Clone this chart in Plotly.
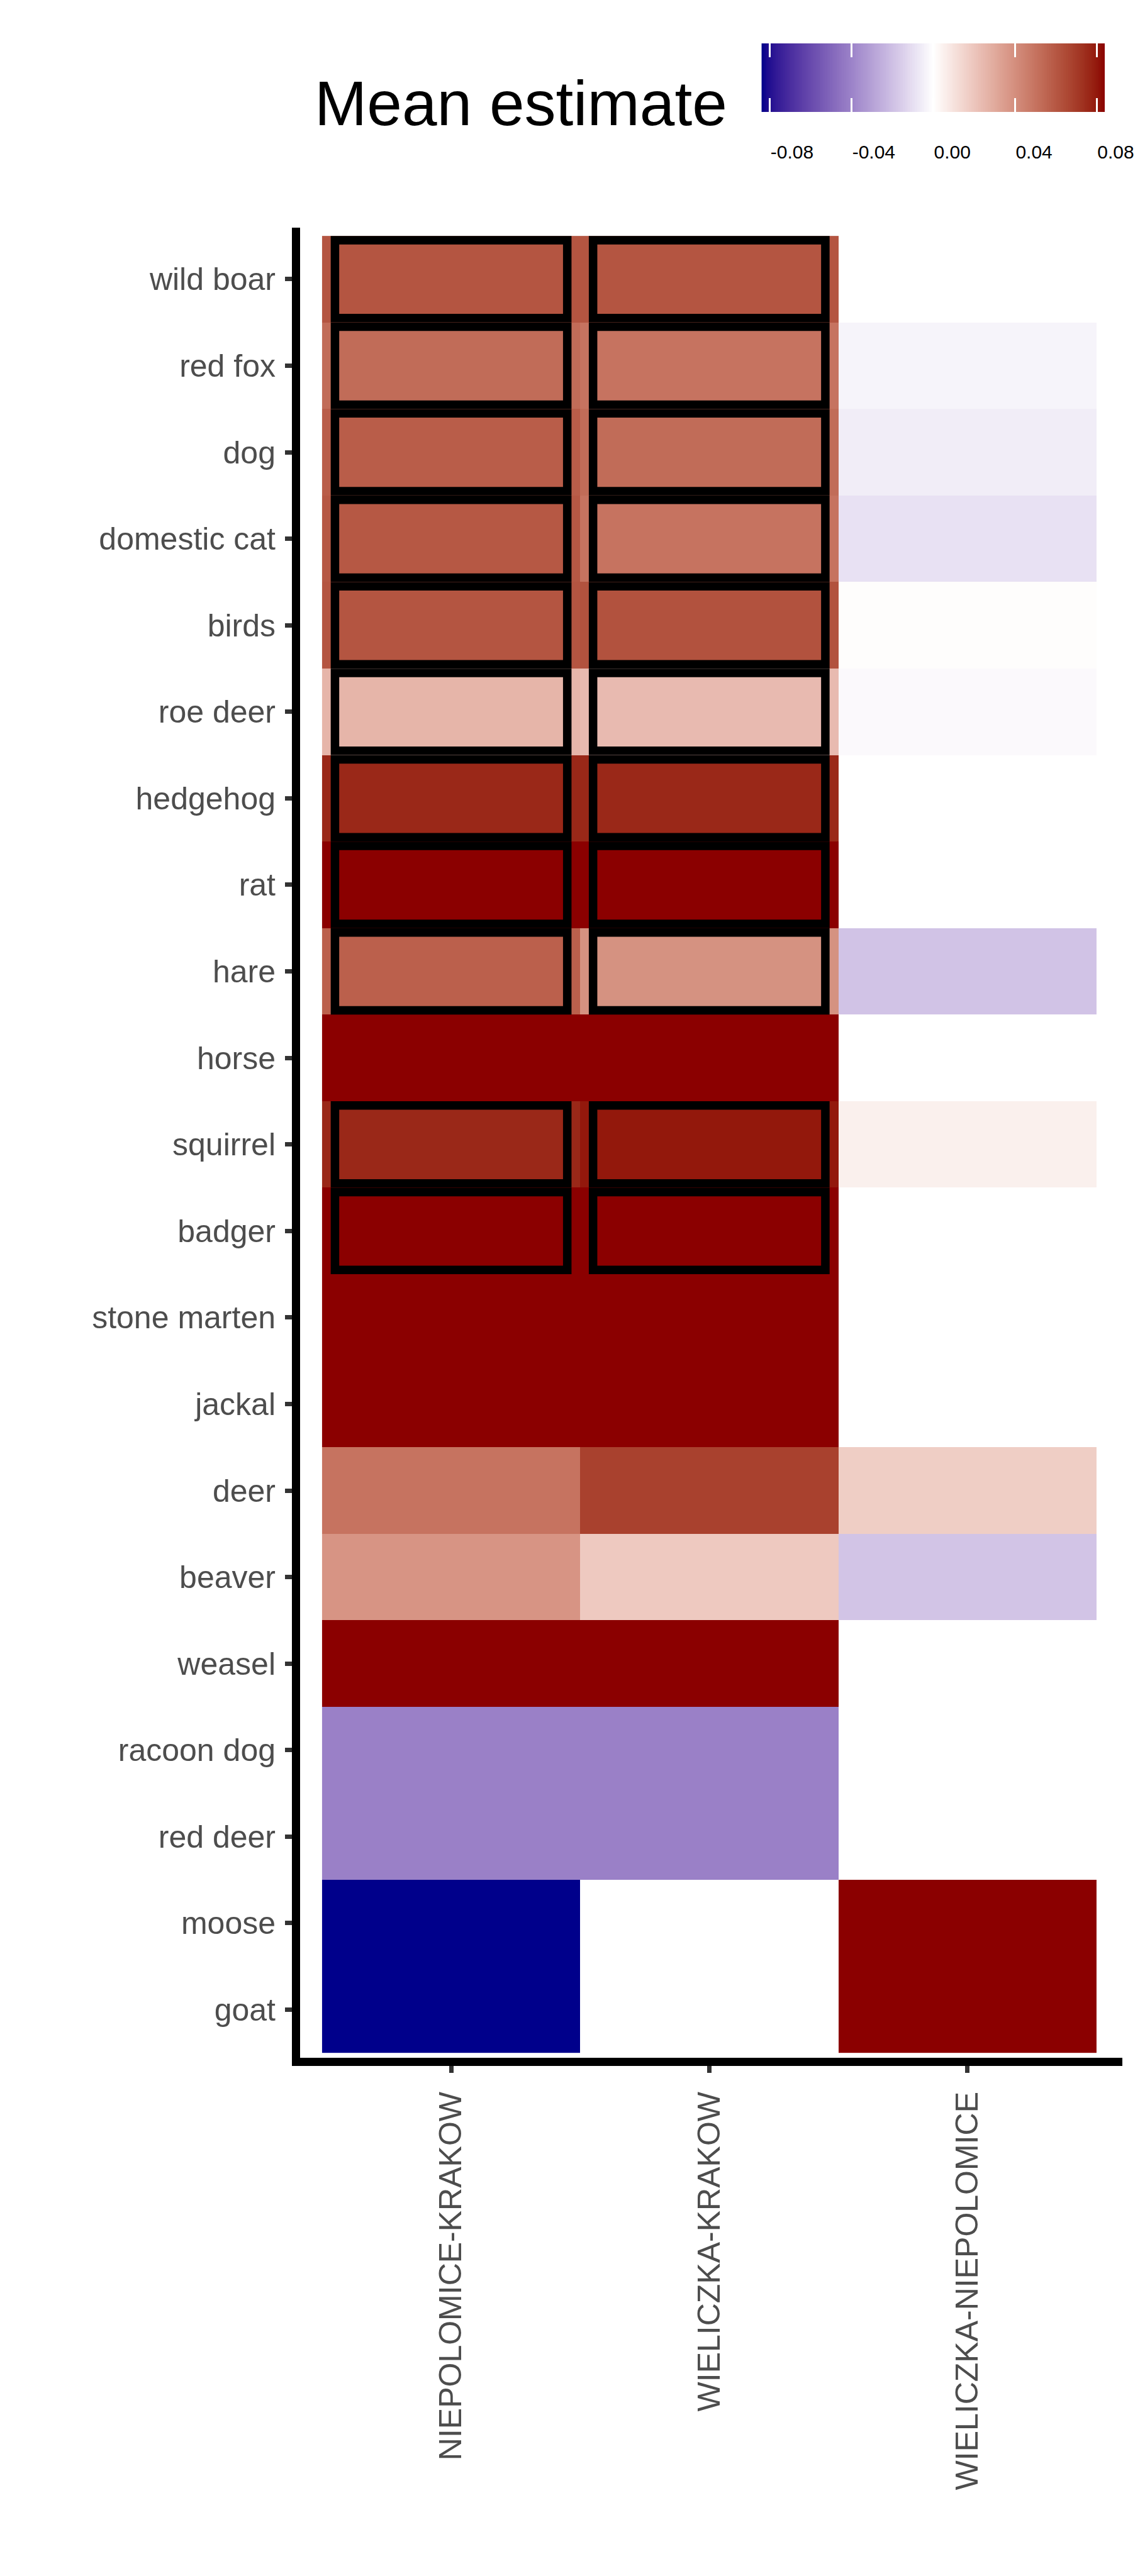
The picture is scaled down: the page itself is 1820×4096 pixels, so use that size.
import numpy as np
import plotly.graph_objects as go

# ---------------- data ----------------
species = ["wild boar", "red fox", "dog", "domestic cat", "birds", "roe deer",
           "hedgehog", "rat", "hare", "horse", "squirrel", "badger",
           "stone marten", "jackal", "deer", "beaver", "weasel",
           "racoon dog", "red deer", "moose", "goat"]
comparisons = ["NIEPOLOMICE-KRAKOW", "WIELICZKA-KRAKOW", "WIELICZKA-NIEPOLOMICE"]

est_niepolomice_krakow = [0.061, 0.053, 0.058, 0.060, 0.061, 0.026, 0.076, 0.084,
                          0.057, 0.084, 0.076, 0.084, 0.084, 0.084, 0.050, 0.038,
                          0.084, -0.041, -0.041, -0.084, -0.084]
est_wieliczka_krakow = [0.061, 0.050, 0.053, 0.050, 0.062, 0.024, 0.076, 0.084,
                        0.039, 0.084, 0.080, 0.084, 0.084, 0.084, 0.068, 0.019,
                        0.084, -0.041, -0.041, None, None]
est_wieliczka_niepolomice = [None, -0.0035, -0.0057, -0.0094, 0.0008, -0.0018, None, None,
                             -0.019, None, 0.0053, None, None, None, 0.0173, -0.0184,
                             None, None, None, 0.084, 0.084]

sig_niepolomice_krakow = [1, 1, 1, 1, 1, 1, 1, 1, 1, 0, 1, 1, 0, 0, 0, 0, 0, 0, 0, 0, 0]
sig_wieliczka_krakow = [1, 1, 1, 1, 1, 1, 1, 1, 1, 0, 1, 1, 0, 0, 0, 0, 0, 0, 0, 0, 0]
sig_wieliczka_niepolomice = [0] * 21

legend_ticks = [-0.08, -0.04, 0.0, 0.04, 0.08]
legend_ticktext = ["-0.08", "-0.04", "0.00", "0.04", "0.08"]
ZLIM = 0.084

# ---------------- colour scale (Lab interpolation like ggplot gradient2) ----------------
def _lin(c):
    c = c / 255.0
    return c / 12.92 if c <= 0.04045 else ((c + 0.055) / 1.055) ** 2.4

def _unlin(c):
    c = max(0.0, min(1.0, c))
    v = 12.92 * c if c <= 0.0031308 else 1.055 * c ** (1 / 2.4) - 0.055
    return int(round(max(0, min(1, v)) * 255))

WN = (0.95047, 1.0, 1.08883)

def rgb2lab(rgb):
    r, g, b = [_lin(c) for c in rgb]
    X = 0.4124 * r + 0.3576 * g + 0.1805 * b
    Y = 0.2126 * r + 0.7152 * g + 0.0722 * b
    Z = 0.0193 * r + 0.1192 * g + 0.9505 * b
    def f(t):
        return t ** (1 / 3) if t > 0.008856 else 7.787 * t + 16 / 116
    fx, fy, fz = f(X / WN[0]), f(Y / WN[1]), f(Z / WN[2])
    return (116 * fy - 16, 500 * (fx - fy), 200 * (fy - fz))

def lab2rgb(lab):
    L, a, b = lab
    fy = (L + 16) / 116
    fx = fy + a / 500
    fz = fy - b / 200
    def finv(t):
        return t ** 3 if t ** 3 > 0.008856 else (t - 16 / 116) / 7.787
    X, Y, Z = finv(fx) * WN[0], finv(fy) * WN[1], finv(fz) * WN[2]
    r = 3.2406 * X - 1.5372 * Y - 0.4986 * Z
    g = -0.9689 * X + 1.8758 * Y + 0.0415 * Z
    bb = 0.0557 * X - 0.2040 * Y + 1.0570 * Z
    return "rgb(%d,%d,%d)" % (_unlin(r), _unlin(g), _unlin(bb))

low, mid, high = rgb2lab((0, 0, 139)), rgb2lab((255, 255, 255)), rgb2lab((139, 0, 0))
colorscale = []
for s in np.linspace(0, 1, 61):
    t = 2 * s - 1
    end = low if t < 0 else high
    k = abs(t)
    lab = tuple(mid[i] + k * (end[i] - mid[i]) for i in range(3))
    colorscale.append([float(s), lab2rgb(lab)])

# ---------------- geometry (pixels) ----------------
W, H = 1820, 4096
PL, PR = 476.5, 1784.3          # main panel left/right
PT, PB = 361.6, 3272.5          # main panel top/bottom
TOPM = 40
col0, colstep = 716.7, 410.5
row0, rowstep = 444.0, 137.6
paper_h = PB - TOPM
paper_w = PR - PL

def px_x(px):
    return (px - PL) / paper_w

def px_y(py):
    return (PB - py) / paper_h

xrange_ = [(PL - col0) / colstep, (PR - col0) / colstep]
yrange_ = [(PB - row0) / rowstep, (PT - row0) / rowstep]

FONT = "Liberation Sans, Arial, sans-serif"

z = [[est_niepolomice_krakow[i], est_wieliczka_krakow[i], est_wieliczka_niepolomice[i]]
     for i in range(len(species))]

fig = go.Figure()
fig.add_trace(go.Heatmap(x=comparisons, y=species, z=z, coloraxis="coloraxis",
                         xgap=0, ygap=0, hoverongaps=False))

# legend gradient bar
leg_x = np.linspace(-ZLIM, ZLIM, 401)
fig.add_trace(go.Heatmap(x=leg_x, y=[0], z=[leg_x], coloraxis="coloraxis",
                         xaxis="x2", yaxis="y2", hoverinfo="skip"))

# significance boxes
sigs = [sig_niepolomice_krakow, sig_wieliczka_krakow, sig_wieliczka_niepolomice]
shapes = []
for ci, sig in enumerate(sigs):
    for ri, s in enumerate(sig):
        if s:
            shapes.append(dict(type="rect", xref="x", yref="y",
                               x0=ci - 0.45, x1=ci + 0.45, y0=ri - 0.45, y1=ri + 0.45,
                               line=dict(color="black", width=13.5), fillcolor="rgba(0,0,0,0)",
                               layer="above"))

axis_common = dict(showline=True, linewidth=13, linecolor="black", ticks="outside",
                   ticklen=11, tickwidth=7, tickcolor="#333333", showgrid=False,
                   zeroline=False, automargin=False,
                   tickfont=dict(family=FONT, size=50, color="#4D4D4D"))

fig.update_layout(
    width=W, height=H,
    margin=dict(l=PL, r=W - PR, t=TOPM, b=H - PB, pad=0, autoexpand=False),
    paper_bgcolor="white", plot_bgcolor="white",
    coloraxis=dict(colorscale=colorscale, cmin=-ZLIM, cmax=ZLIM, showscale=False),
    xaxis=dict(type="category", categoryorder="array", categoryarray=comparisons,
               range=xrange_, tickangle=-90, domain=[0, 1], anchor="y",
               ticklabelstandoff=10, **axis_common),
    yaxis=dict(type="category", categoryorder="array", categoryarray=species,
               range=yrange_, domain=[0, px_y(PT)], anchor="x",
               ticklabelstandoff=5, **axis_common),
    xaxis2=dict(domain=[px_x(1210.5), px_x(1756.3)], anchor="y2", range=[-ZLIM, ZLIM],
                tickvals=legend_ticks, ticktext=legend_ticktext, ticks="inside",
                ticklen=22, tickwidth=2.5, tickcolor="white", mirror="ticks",
                showline=False, showgrid=False, zeroline=False, automargin=False,
                ticklabelposition="outside right", ticklabelstandoff=43,
                tickfont=dict(family=FONT, size=30, color="black")),
    yaxis2=dict(domain=[px_y(178), px_y(69)], anchor="x2", range=[-0.5, 0.5],
                showticklabels=False, ticks="", showline=False, showgrid=False,
                zeroline=False, automargin=False),
    shapes=shapes,
    annotations=[dict(text="Mean estimate", xref="paper", yref="paper",
                      x=px_x(498), y=px_y(164), xanchor="left", yanchor="middle",
                      showarrow=False, font=dict(family=FONT, size=100, color="black"))],
)

fig.write_html("out.html")
